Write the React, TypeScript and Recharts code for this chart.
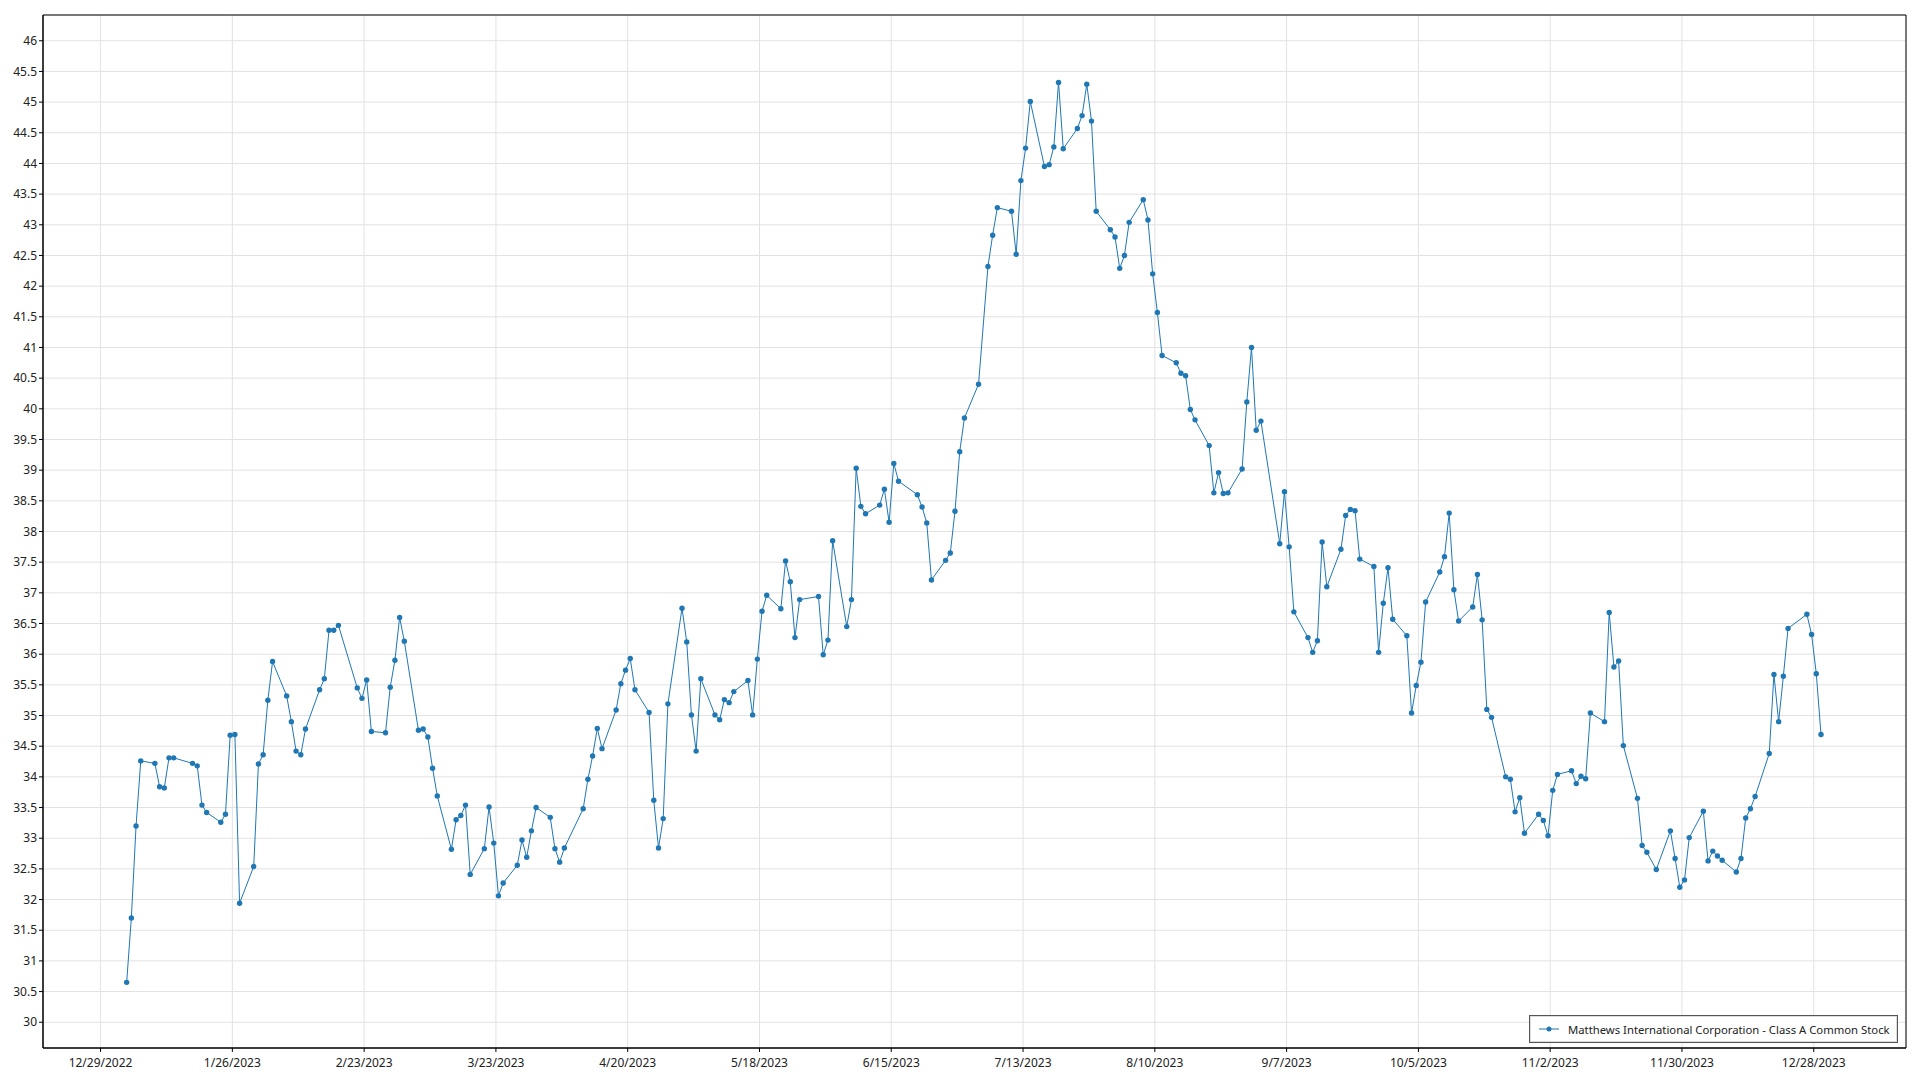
import { CartesianGrid, Line, LineChart, ReferenceArea, XAxis, YAxis } from "recharts";

const SERIES_NAME = "Matthews International Corporation - Class A Common Stock";
const COLOR = "#1f77b4";

// trading days per month (2023) and closing prices
const janDays = [3, 4, 5, 6, 9, 10, 11, 12, 13, 17, 18, 19, 20, 23, 24, 25, 26, 27, 30, 31];
const janClose = [30.65, 31.7, 33.2, 34.26, 34.22, 33.84, 33.82, 34.31, 34.31, 34.22, 34.18, 33.54, 33.42, 33.26, 33.39, 34.68, 34.69, 31.94, 32.54, 34.21];
const febDays = [1, 2, 3, 6, 7, 8, 9, 10, 13, 14, 15, 16, 17, 21, 22, 23, 24, 27, 28];
const febClose = [34.36, 35.25, 35.88, 35.32, 34.9, 34.42, 34.36, 34.78, 35.42, 35.6, 36.39, 36.39, 36.47, 35.45, 35.28, 35.58, 34.74, 34.72, 35.46];
const marDays = [1, 2, 3, 6, 7, 8, 9, 10, 13, 14, 15, 16, 17, 20, 21, 22, 23, 24, 27, 28, 29, 30, 31];
const marClose = [35.9, 36.6, 36.21, 34.76, 34.78, 34.65, 34.14, 33.69, 32.82, 33.3, 33.37, 33.54, 32.41, 32.83, 33.51, 32.92, 32.06, 32.27, 32.56, 32.97, 32.69, 33.12, 33.5];
const aprDays = [3, 4, 5, 6, 10, 11, 12, 13, 14, 17, 18, 19, 20, 21, 24, 25, 26, 27, 28];
const aprClose = [33.34, 32.83, 32.61, 32.84, 33.48, 33.96, 34.34, 34.79, 34.46, 35.09, 35.52, 35.74, 35.93, 35.42, 35.05, 33.62, 32.84, 33.32, 35.19];
const mayDays = [1, 2, 3, 4, 5, 8, 9, 10, 11, 12, 15, 16, 17, 18, 19, 22, 23, 24, 25, 26, 30, 31];
const mayClose = [36.75, 36.2, 35.01, 34.42, 35.6, 35.01, 34.93, 35.26, 35.21, 35.39, 35.57, 35.01, 35.92, 36.7, 36.96, 36.74, 37.52, 37.18, 36.27, 36.89, 36.94, 35.99];
const junDays = [1, 2, 5, 6, 7, 8, 9, 12, 13, 14, 15, 16, 20, 21, 22, 23, 26, 27, 28, 29, 30];
const junClose = [36.23, 37.85, 36.45, 36.89, 39.03, 38.41, 38.29, 38.43, 38.69, 38.15, 39.11, 38.82, 38.6, 38.4, 38.14, 37.21, 37.53, 37.65, 38.33, 39.3, 39.85];
const julDays = [3, 5, 6, 7, 10, 11, 12, 13, 14, 17, 18, 19, 20, 21, 24, 25, 26, 27, 28, 31];
const julClose = [40.4, 42.32, 42.83, 43.28, 43.22, 42.52, 43.72, 44.25, 45.01, 43.95, 43.98, 44.27, 45.32, 44.24, 44.57, 44.78, 45.29, 44.69, 43.22, 42.92];
const augDays = [1, 2, 3, 4, 7, 8, 9, 10, 11, 14, 15, 16, 17, 18, 21, 22, 23, 24, 25, 28, 29, 30, 31];
const augClose = [42.8, 42.29, 42.5, 43.04, 43.41, 43.08, 42.2, 41.57, 40.87, 40.75, 40.58, 40.54, 39.99, 39.82, 39.4, 38.63, 38.96, 38.62, 38.63, 39.02, 40.11, 41.0, 39.65];
const sepDays = [1, 5, 6, 7, 8, 11, 12, 13, 14, 15, 18, 19, 20, 21, 22, 25, 26, 27, 28, 29];
const sepClose = [39.8, 37.8, 38.65, 37.75, 36.69, 36.27, 36.03, 36.22, 37.83, 37.1, 37.71, 38.26, 38.36, 38.34, 37.55, 37.43, 36.03, 36.83, 37.41, 36.57];
const octDays = [2, 3, 4, 5, 6, 9, 10, 11, 12, 13, 16, 17, 18, 19, 20, 23, 24, 25, 26, 27, 30, 31];
const octClose = [36.3, 35.04, 35.49, 35.87, 36.85, 37.34, 37.59, 38.3, 37.05, 36.54, 36.77, 37.3, 36.56, 35.1, 34.97, 34.0, 33.96, 33.43, 33.66, 33.08, 33.39, 33.29];
const novDays = [1, 2, 3, 6, 7, 8, 9, 10, 13, 14, 15, 16, 17, 20, 21, 22, 24, 27, 28, 29, 30];
const novClose = [33.04, 33.78, 34.04, 34.1, 33.89, 34.01, 33.97, 35.04, 34.9, 36.68, 35.79, 35.89, 34.51, 33.65, 32.88, 32.77, 32.49, 33.12, 32.67, 32.2, 32.32];
const decDays = [1, 4, 5, 6, 7, 8, 11, 12, 13, 14, 15, 18, 19, 20, 21, 22, 26, 27, 28, 29];
const decClose = [33.01, 33.44, 32.63, 32.79, 32.71, 32.64, 32.45, 32.67, 33.33, 33.48, 33.68, 34.38, 35.67, 34.9, 35.64, 36.42, 36.65, 36.32, 35.68, 34.69];

const xTickDates = [
  "2022-12-29", "2023-01-26", "2023-02-23", "2023-03-23", "2023-04-20", "2023-05-18", "2023-06-15",
  "2023-07-13", "2023-08-10", "2023-09-07", "2023-10-05", "2023-11-02", "2023-11-30", "2023-12-28",
];
const yTicks = [
  30, 30.5, 31, 31.5, 32, 32.5, 33, 33.5, 34, 34.5, 35, 35.5, 36, 36.5, 37, 37.5, 38, 38.5,
  39, 39.5, 40, 40.5, 41, 41.5, 42, 42.5, 43, 43.5, 44, 44.5, 45, 45.5, 46,
];

const DAY = 86400000;
const monthly: Array<[number, number[], number[]]> = [
  [0, janDays, janClose], [1, febDays, febClose], [2, marDays, marClose], [3, aprDays, aprClose],
  [4, mayDays, mayClose], [5, junDays, junClose], [6, julDays, julClose], [7, augDays, augClose],
  [8, sepDays, sepClose], [9, octDays, octClose], [10, novDays, novClose], [11, decDays, decClose],
];
const data = monthly.flatMap(([m, days, vals]) =>
  days.map((d, i) => ({ t: Date.UTC(2023, m, d, 13), close: vals[i] }))
);

const parseDay = (s: string) => {
  const [y, m, d] = s.split("-").map(Number);
  return Date.UTC(y, m - 1, d);
};
const xTicks = xTickDates.map(parseDay);
const base = xTicks[0];
const xDomain = [base - 12.23 * DAY, base + 383.6 * DAY];
const yDomain = [29.58, 46.42];

const fmtDate = (t: number) => {
  const d = new Date(t);
  return `${d.getUTCMonth() + 1}/${d.getUTCDate()}/${d.getUTCFullYear()}`;
};

const FONT = "'Segoe UI', 'Noto Sans', sans-serif";

export default function App() {
  return (
    <div style={{ position: "fixed", left: 0, top: 0, width: 1920, height: 1080, background: "#fff", fontFamily: FONT }}>
      <LineChart width={1920} height={1080} data={data} margin={{ top: 15, right: 14, bottom: 8, left: 8 }}>
        <CartesianGrid stroke="#e2e2e2" strokeWidth={1} />
        <XAxis
          dataKey="t"
          type="number"
          scale="time"
          domain={xDomain}
          ticks={xTicks}
          tickFormatter={fmtDate}
          allowDataOverflow
          height={24}
          tickSize={4}
          tickMargin={6}
          stroke="#000"
          tick={{ fill: "#222", fontSize: 12, fontFamily: FONT }}
        />
        <YAxis
          type="number"
          domain={yDomain}
          ticks={yTicks}
          allowDataOverflow
          width={35}
          tickSize={4}
          stroke="#000"
          tick={{ fill: "#222", fontSize: 12, fontFamily: FONT }}
        />
        <ReferenceArea
          x1={xDomain[0]}
          x2={xDomain[1]}
          y1={yDomain[0]}
          y2={yDomain[1]}
          fill="none"
          stroke="#000"
          strokeWidth={1}
          ifOverflow="visible"
        />
        <Line
          type="linear"
          dataKey="close"
          name={SERIES_NAME}
          stroke={COLOR}
          strokeWidth={1}
          dot={{ r: 2.7, fill: COLOR, stroke: COLOR, strokeWidth: 0 }}
          isAnimationActive={false}
        />
      </LineChart>
      <div
        style={{
          position: "absolute",
          left: 1529,
          top: 1015,
          width: 367,
          height: 26,
          border: "1px solid #555",
          boxShadow: "inset 0 0 0 1px #ddd",
          background: "#fff",
          display: "flex",
          alignItems: "center",
          fontSize: 11.3,
          color: "#222",
          whiteSpace: "nowrap",
        }}
      >
        <svg width={30} height={12} style={{ marginLeft: 8, flexShrink: 0 }}>
          <line x1={1} y1={6} x2={21} y2={6} stroke={COLOR} strokeWidth={1} />
          <circle cx={11} cy={6} r={2.5} fill={COLOR} />
        </svg>
        <span>{SERIES_NAME}</span>
      </div>
    </div>
  );
}
